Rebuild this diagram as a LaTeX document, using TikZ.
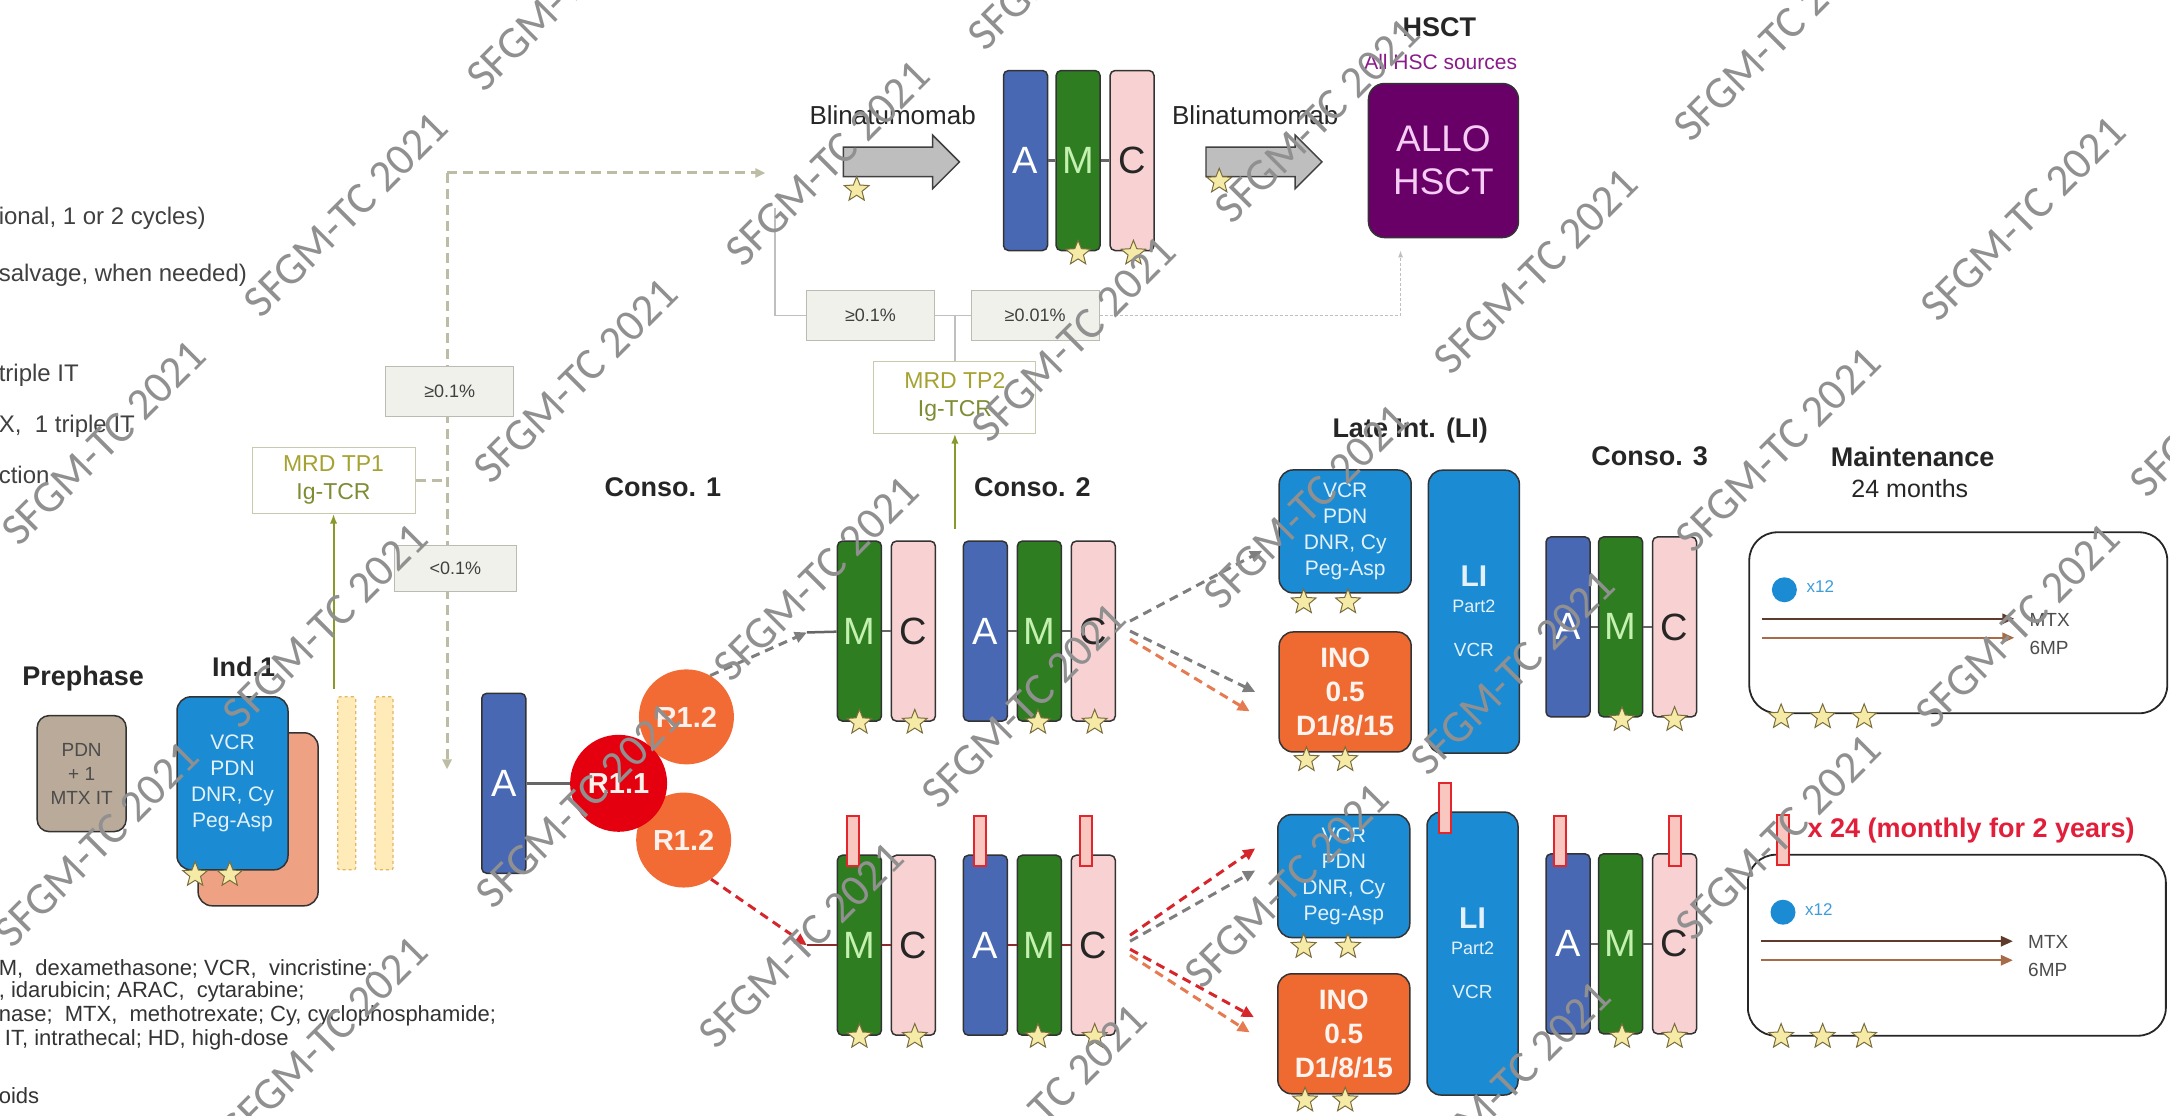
\documentclass[tikz,border=0pt]{standalone}
\usepackage{fontspec}
\setmainfont{Liberation Sans}
\newfontfamily\wmfont{Carlito}
\usepackage{xcolor}
\usetikzlibrary{shapes.geometric, shapes.arrows, arrows.meta, positioning, calc}
\definecolor{indblue}{HTML}{1B8BD3}
\definecolor{salmon}{HTML}{EFA283}
\definecolor{prepfill}{HTML}{B9AA9A}
\definecolor{yelfill}{HTML}{FFEBB8}
\definecolor{yeldraw}{HTML}{E2B463}
\definecolor{ablue}{HTML}{4868B4}
\definecolor{mgreen}{HTML}{2E7D20}
\definecolor{mtext}{HTML}{C4F0B0}
\definecolor{cpink}{HTML}{F8D2D2}
\definecolor{inoorange}{HTML}{EE6A30}
\definecolor{rorange}{HTML}{F26B35}
\definecolor{rred}{HTML}{E5000F}
\definecolor{allopurple}{HTML}{690068}
\definecolor{allotext}{HTML}{F4CCF4}
\definecolor{arrowgray}{HTML}{BEBEBE}
\definecolor{branchol}{HTML}{BDBDA6}
\definecolor{mrdgreen}{HTML}{8A9A2A}
\definecolor{mrdtext}{HTML}{A6A232}
\definecolor{mrdsub}{HTML}{7E8C34}
\definecolor{mrddraw}{HTML}{C9C9AE}
\definecolor{pctfill}{HTML}{F1F1EC}
\definecolor{pctdraw}{HTML}{BBBBB3}
\definecolor{tabred}{HTML}{E3262B}
\definecolor{tabfill}{HTML}{F9C6C0}
\definecolor{linkred}{HTML}{8E2B2B}
\definecolor{dashred}{HTML}{D6262B}
\definecolor{dashgray}{HTML}{7E7E7E}
\definecolor{dashorange}{HTML}{E67A50}
\definecolor{mtxbrown}{HTML}{5E3B2A}
\definecolor{mpbrown}{HTML}{A86B48}
\definecolor{alertred}{HTML}{E11F3A}
\definecolor{starfill}{HTML}{F6EBA6}
\definecolor{stardraw}{HTML}{7A6D3E}
\definecolor{hscpurple}{HTML}{8A1A8A}
\definecolor{wmgray}{HTML}{909090}

\begin{document}
\begin{tikzpicture}[
    x=1.384pt, y=-1.384pt,
    every node/.style={font=\fontsize{21}{26}\selectfont, inner sep=0pt},
    phaselbl/.style={font=\fontsize{27}{30}\selectfont\bfseries, text=black!85},
    sidenote/.style={font=\fontsize{24}{28}\selectfont, text=black!75, anchor=west},
    keytxt/.style={font=\fontsize{22}{24}\selectfont, text=black!80, anchor=west},
    blockbar/.style={draw=black!80, line width=1.5pt, rounded corners=5pt,
                     minimum width=44pt, minimum height=180pt, font=\fontsize{38}{40}\selectfont},
    abar/.style={blockbar, fill=ablue, text=white},
    mbar/.style={blockbar, fill=mgreen, text=mtext},
    cbar/.style={blockbar, fill=cpink, text=black!85},
    tab/.style={draw=tabred, fill=tabfill, line width=2pt, minimum width=12pt, minimum height=50pt},
    gold/.style={star, star points=5, star point ratio=2.3, minimum size=26pt,
                 fill=starfill, draw=stardraw, line width=1pt},
    chemo/.style={draw=black!80, line width=1.5pt, rounded corners=14pt, fill=indblue,
                  text=white!88!indblue, align=center, minimum width=132pt, minimum height=123pt},
    ino/.style={chemo, fill=inoorange, text=white!92!inoorange,
                font=\fontsize{28}{34}\selectfont\bfseries, minimum height=120pt},
    libox/.style={chemo, minimum width=91pt, minimum height=283pt},
    rcircle/.style={circle, minimum size=95pt, text=white!90!rorange,
                    font=\fontsize{29}{30}\selectfont\bfseries},
    pct/.style={draw=pctdraw, fill=pctfill, line width=1pt, minimum width=128pt,
                minimum height=50pt, font=\fontsize{18}{20}\selectfont, text=black!75},
    mrd/.style={draw=mrddraw, fill=white, line width=1pt, minimum width=163pt,
                minimum height=66pt, align=center, font=\fontsize{23}{28}\selectfont},
    blockarrow/.style={single arrow, draw=black!75, fill=arrowgray, line width=1.5pt,
                       minimum height=116pt, single arrow head extend=12pt,
                       text height=14pt, text depth=14pt},
    link/.style={draw=black!60, line width=2.5pt},
    redlink/.style={draw=linkred, line width=2.5pt},
    branch/.style={draw=branchol, line width=3pt, dash pattern=on 10pt off 6pt,
                   -{Triangle[length=10pt, width=9pt]}},
    thinline/.style={draw=black!25, line width=1.2pt},
    dashline/.style={line width=3pt, dash pattern=on 9pt off 6pt,
                     -{Triangle[length=12pt, width=11pt]}},
    maint/.style={draw=black!85, line width=1.8pt, rounded corners=28pt,
                  minimum width=418pt, minimum height=181pt},
    drug/.style={line width=2.5pt, -{Triangle[length=12pt, width=10pt]}},
    wm/.style={font=\wmfont\fontsize{45}{45}\selectfont, text=wmgray, rotate=45}
  ]
  \useasboundingbox (0,0) rectangle (1568,806);
  \clip (0,0) rectangle (1568,806);

  % side notes, cut by the left edge
  \foreach \y/\txt [count=\i] in {158/{ional, 1 or 2 cycles)}, 199/{salvage, when needed)},
                                   271/{triple IT}, 308/{X,\ \ 1 triple IT}, 343/{ction}} {
    \node[sidenote] (note\i) at (-1,\y) {\txt};
  }
  \foreach \y/\txt [count=\i] in {700/{M,\ \ dexamethasone; VCR,\ \ vincristine;},
                                   717/{, idarubicin; ARAC,\ \ cytarabine;},
                                   734/{nase;\ \ MTX,\ \ methotrexate; Cy, cyclophosphamide;},
                                   751/{\ IT, intrathecal; HD, high-dose},
                                   792/{oids}} {
    \node[keytxt] (key\i) at (-1,\y) {\txt};
  }

  % stage labels
  \foreach \x/\y/\txt [count=\i] in {60/490/Prephase, 176/482/Ind.1, 479/352/{Conso. 1},
                                      746/352/{Conso. 2}, 1019/311/{Late Int. (LI)},
                                      1192/330/{Conso. 3}, 1382/330/Maintenance, 1040/20/HSCT} {
    \node[phaselbl] (stage\i) at (\x,\y) {\txt};
  }
  \node[font=\fontsize{25}{28}\selectfont, text=black!85] (months) at (1380,353) {24 months};
  \node[font=\fontsize{21}{24}\selectfont, text=hscpurple] (hscsrc) at (1041,45) {All HSC sources};

  % prephase + induction
  \node[draw=black!80, line width=1.5pt, rounded corners=12pt, fill=prepfill, minimum width=89pt,
        minimum height=116pt, align=center, text=black!70, font=\fontsize{19}{24}\selectfont]
        (prep) at (59,559) {PDN\\+ 1\\MTX IT};
  \node[chemo, fill=salmon, minimum width=120pt, minimum height=173pt] (indback) at (186.5,592) {};
  \node[chemo, minimum width=111pt, minimum height=173pt] (ind) at (168,566) {VCR\\PDN\\DNR, Cy\\Peg-Asp};
  \foreach \x [count=\i] in {250.5, 277.5} {
    \node[draw=yeldraw, fill=yelfill, line width=1.2pt, dashed, rounded corners=2pt,
          minimum width=18pt, minimum height=173pt] (gap\i) at (\x,566) {};
  }

  % MRD TP1
  \node[mrd] (mrd1) at (241,347) {\textcolor{mrdtext}{MRD TP1}\\\textcolor{mrdsub}{Ig-TCR}};
  \coordinate (g1) at (241,498);
  \draw[mrdgreen, line width=2pt, -{Latex[length=10pt]}] (g1) -- (mrd1.south);
  \coordinate (brtop) at (323,125);
  \coordinate (brdown) at (323,556);
  \coordinate (brright) at (553,125);
  \draw[branch] (brtop) -- (brdown);
  \draw[branch] (brtop) -- (brright);
  \draw[branch, -] (mrd1.east) -- (mrd1.east -| brtop);
  \node[pct] (lhi) at (325,283) {≥0.1\%};
  \node[pct, minimum width=122pt, minimum height=46pt] (llo) at (329,411) {<0.1\%};

  % blinatumomab arm
  \node[blockarrow] (blina1) at (646,117) {};
  \node[font=\fontsize{26}{28}\selectfont, text=black!85] (blina1t) at (645,83) {Blinatumomab};
  \node[blockarrow] (blina2) at (908,117) {};
  \node[font=\fontsize{26}{28}\selectfont, text=black!85] (blina2t) at (907,83) {Blinatumomab};
  \node[abar] (ta) at (741,116) {A};
  \node[mbar] (tm) at (779,116) {M};
  \node[cbar] (tc) at (818,116) {C};
  \draw[link] (ta) -- (tm);
  \draw[link] (tm) -- (tc);
  \node[draw=black!80, line width=1.5pt, fill=allopurple, rounded corners=16pt, minimum width=150pt,
        minimum height=154pt, align=center, text=allotext, font=\fontsize{37}{43}\selectfont]
        (allo) at (1043,116) {ALLO\\HSCT};

  % MRD TP2
  \node[pct] (thi) at (629,228) {≥0.1\%};
  \node[pct] (tlo) at (748,228) {≥0.01\%};
  \node[mrd, minimum width=162pt, minimum height=72pt] (mrd2) at (690,287)
       {\textcolor{mrdtext}{MRD TP2}\\\textcolor{mrdsub}{Ig-TCR}};
  \draw[thinline] (thi.east) -- (tlo.west);
  \draw[thinline] (mrd2.north) -- (mrd2.north |- thi.east);
  \coordinate (lup) at (560,150);
  \draw[thinline] (thi.west) -| (lup);
  \coordinate (alloin) at (1012,181);
  \draw[thinline, densely dashed, -{Latex[length=7pt]}] (tlo.east) -| (alloin);
  \coordinate (g2) at (690,382);
  \draw[mrdgreen, line width=2pt, -{Latex[length=10pt]}] (g2) -- (mrd2.south);

  % randomisation R1
  \node[abar] (a1) at (364,566) {A};
  \node[rcircle, fill=rorange] (r12a) at (496,518) {R1.2};
  \node[rcircle, fill=rorange] (r12b) at (494,607) {R1.2};
  \node[rcircle, fill=rred, minimum size=97pt] (r11) at (447,566) {R1.1};
  \draw[link] (a1) -- (r11);

  % consolidation 1 and 2, both arms
  \foreach \n/\x/\s/\t in {m1/621/mbar/M, c1/660/cbar/C, a2/712/abar/A, m2/751/mbar/M, c2/790/cbar/C} {
    \node[\s] (\n-u) at (\x,456) {\t};
    \node[\s] (\n-l) at (\x,683) {\t};
  }
  \coordinate (uin) at (583,457);
  \coordinate (lin) at (583,683);
  \draw[dashline, draw=dashgray] (r12a.60) -- (uin);
  \draw[dashline, draw=dashred] (r12b.-55) -- (lin);
  \draw[link] (uin) -- (m1-u);
  \draw[redlink] (lin) -- (m1-l);
  \foreach \p/\q in {m1/c1, a2/m2, m2/c2} {
    \draw[link] (\p-u) -- (\q-u);
    \draw[redlink] (\p-l) -- (\q-l);
  }

  % late intensification
  \node[chemo] (vcru) at (972,384) {VCR\\PDN\\DNR, Cy\\Peg-Asp};
  \node[ino] (inou) at (972,500) {INO\\0.5\\D1/8/15};
  \node[libox] (liu) at (1065,442) {{\fontsize{30}{30}\selectfont\bfseries LI}\\
        {\fontsize{18}{20}\selectfont Part2}\\[18pt]{\fontsize{19}{20}\selectfont VCR}};
  \node[chemo] (vcrl) at (971,633) {VCR\\PDN\\DNR, Cy\\Peg-Asp};
  \node[ino] (inol) at (971,747) {INO\\0.5\\D1/8/15};
  \node[libox] (lil) at (1064,689) {{\fontsize{30}{30}\selectfont\bfseries LI}\\
        {\fontsize{18}{20}\selectfont Part2}\\[18pt]{\fontsize{19}{20}\selectfont VCR}};

  \coordinate (du1) at (912,398);
  \coordinate (du2) at (907,500);
  \coordinate (du3) at (903,514);
  \coordinate (dl1) at (907,613);
  \coordinate (dl2) at (907,629);
  \coordinate (dl3) at (906,735);
  \coordinate (dl4) at (903,746);
  \draw[dashline, draw=dashgray] ([xshift=14pt, yshift=10pt]c2-u.east) -- (du1);
  \draw[dashline, draw=dashgray] ([xshift=14pt]c2-u.east) -- (du2);
  \draw[dashline, draw=dashorange] ([xshift=14pt, yshift=-8pt]c2-u.east) -- (du3);
  \draw[dashline, draw=dashred] ([xshift=14pt, yshift=10pt]c2-l.east) -- (dl1);
  \draw[dashline, draw=dashgray] ([xshift=14pt, yshift=4pt]c2-l.east) -- (dl2);
  \draw[dashline, draw=dashred] ([xshift=14pt, yshift=-4pt]c2-l.east) -- (dl3);
  \draw[dashline, draw=dashorange] ([xshift=14pt, yshift=-10pt]c2-l.east) -- (dl4);

  % consolidation 3
  \foreach \n/\x/\s/\t in {a3/1133/abar/A, m3/1171/mbar/M, c3/1210/cbar/C} {
    \node[\s] (\n-u) at (\x,453) {\t};
    \node[\s] (\n-l) at (\x,682) {\t};
  }
  \foreach \p/\q in {a3/m3, m3/c3} {
    \draw[link] (\p-u) -- (\q-u);
    \draw[link] (\p-l) -- (\q-l);
  }

  % maintenance
  \node[maint] (mtu) at (1415,450) {};
  \node[maint] (mtl) at (1414,683) {};
  \foreach \b in {mtu, mtl} {
    \node[circle, fill=indblue, minimum size=25pt] (\b-dot) at ([xshift=36pt, yshift=33pt]\b.west) {};
    \node[anchor=west, text=indblue!85, font=\fontsize{17}{18}\selectfont] (\b-x) at ([xshift=58pt, yshift=36pt]\b.west) {x12};
    \draw[drug, mtxbrown] ([xshift=14pt, yshift=4pt]\b.west) -- ([xshift=266pt, yshift=4pt]\b.west);
    \draw[drug, mpbrown] ([xshift=14pt, yshift=-15pt]\b.west) -- ([xshift=266pt, yshift=-15pt]\b.west);
    \node[anchor=west, text=black!70, font=\fontsize{19}{20}\selectfont] (\b-mtx) at ([xshift=281pt, yshift=3pt]\b.west) {MTX};
    \node[anchor=west, text=black!70, font=\fontsize{19}{20}\selectfont] (\b-mp) at ([xshift=281pt, yshift=-25pt]\b.west) {6MP};
  }
  \node[anchor=west, text=alertred, font=\fontsize{27}{30}\selectfont\bfseries] (monthly) at (1306,600) {x 24 (monthly for 2 years)};

  % red tabs
  \foreach \x/\y [count=\i] in {616/608, 708/608, 785/608, 1044/584, 1127/608, 1210/608, 1288/607} {
    \node[tab] (tab\i) at (\x,\y) {};
  }

  % stars
  \foreach \x/\y [count=\i] in {141/632, 166/632, 619/137, 881/131, 779/183, 819/183,
      621/522, 661/522, 750/522, 791/522, 621/749, 661/749, 750/749, 791/749,
      942/435, 974/435, 944/549, 972/549, 942/684, 974/684, 943/795, 972/795,
      1172/520, 1210/520, 1172/749, 1210/749,
      1287/518, 1317/518, 1347/518, 1287/749, 1317/749, 1347/749} {
    \node[gold] (st\i) at (\x,\y) {};
  }

  % watermark
  \foreach \x/\y [count=\i] in {411/-8, 773/-38, 250/155, 598/118, 952/87, 1283/28, 1462/158, 1110/196,
      776/245, 416/275, 75/320, 944/366, 1285/325, 1613/285, 235/452, 590/418, 740/510,
      70/610, 418/582, 1093/486, 1458/452, 235/751, 579/683, 930/640, 1285/605, 755/800, 1090/783} {
    \node[wm] (wm\i) at (\x,\y) {SFGM-TC 2021};
  }
\end{tikzpicture}
\end{document}
